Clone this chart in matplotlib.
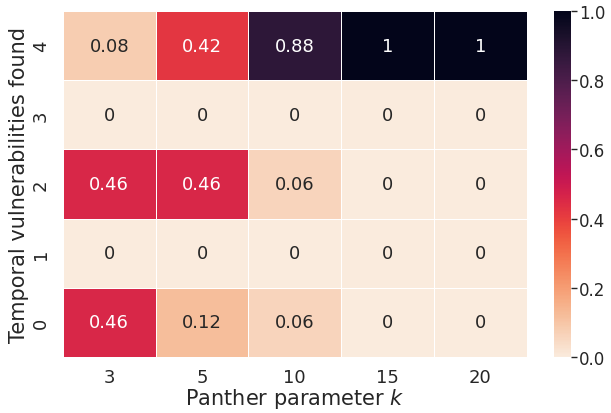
import numpy as np
import pandas as pd
import matplotlib
matplotlib.use("Agg")
import matplotlib.pyplot as plt
import seaborn as sns

sns.set_theme(style="white")

k_values = [3, 5, 10, 15, 20]
vulns = [0, 1, 2, 3, 4]
row0 = [0.46, 0.12, 0.06, 0, 0]
row1 = [0, 0, 0, 0, 0]
row2 = [0.46, 0.46, 0.06, 0, 0]
row3 = [0, 0, 0, 0, 0]
row4 = [0.08, 0.42, 0.88, 1, 1]

df = pd.DataFrame([row0, row1, row2, row3, row4], index=vulns, columns=k_values)

fig = plt.figure(figsize=(6.11, 4.14), dpi=100)
ax = fig.add_axes([0.103, 0.135, 0.759, 0.836])
cax = fig.add_axes([0.906, 0.135, 0.028, 0.836])
sns.heatmap(df, annot=True, cmap="rocket_r", vmin=0, vmax=1, linewidths=0.5,
            linecolor="white", ax=ax, cbar_ax=cax, annot_kws={"size": 13})
ax.invert_yaxis()
ax.set_xlabel("Panther parameter $k$", fontsize=15, labelpad=0)
ax.set_ylabel("Temporal vulnerabilities found", fontsize=15, labelpad=2)
ax.tick_params(axis="y", rotation=90)
ax.tick_params(labelsize=13)
ax.tick_params(axis="x", pad=2)
cax.tick_params(labelsize=12, length=4, width=1, pad=2)

fig.savefig("out.png", dpi=100)
